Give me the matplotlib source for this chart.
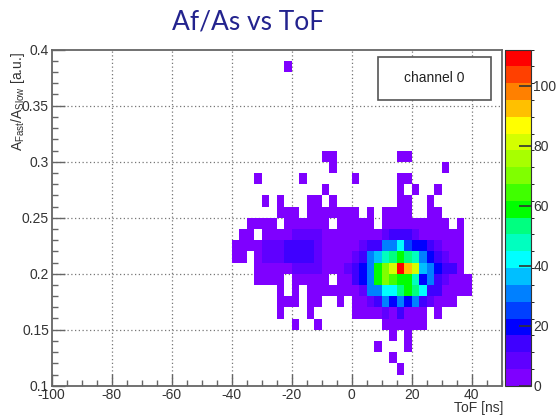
import numpy as np
import matplotlib
matplotlib.use("Agg")
import matplotlib.pyplot as plt
from matplotlib.colors import ListedColormap, BoundaryNorm
from matplotlib.patches import Rectangle
from matplotlib.ticker import MultipleLocator

# Bin edges of the filled part of the 2D histogram
tof_edges = np.arange(-40, 42.6, 2.5)                # ns, 33 bins
ratio_edges = np.round(np.arange(0.11, 0.3901, 0.01), 2)  # 28 bins

# Counts per bin, rows from Af/As = 0.39 (top) down to 0.11, columns from ToF = -40 ns
counts = [
    [0,0,0,0,0,0,0,2,0,0,0,0,0,0,0,0,0,0,0,0,0,0,0,0,0,0,0,0,0,0,0,0,0],
    [0] * 33,
    [0] * 33,
    [0] * 33,
    [0] * 33,
    [0] * 33,
    [0] * 33,
    [0] * 33,
    [0,0,0,0,0,0,0,0,0,0,0,0,2,2,0,0,0,0,0,0,0,0,2,2,0,0,0,0,0,0,0,0,0],
    [0,0,0,0,0,0,0,0,0,0,0,0,0,2,0,0,0,0,0,0,0,0,0,0,0,0,0,0,2,0,0,0,0],
    [0,0,0,2,0,0,0,0,0,2,0,0,0,0,0,0,2,0,0,0,0,0,2,2,0,0,0,0,0,0,0,0,0],
    [0,0,0,0,0,0,0,0,0,0,0,0,2,0,0,0,0,0,0,0,0,0,2,0,2,0,0,2,0,0,0,0,0],
    [0,0,0,0,2,0,2,0,0,0,2,2,0,2,0,0,0,0,0,0,0,0,2,2,0,0,2,0,0,0,0,0,0],
    [0,0,0,0,0,0,2,2,2,0,2,2,2,2,2,2,2,0,2,0,2,2,2,2,0,0,2,2,0,0,0,0,0],
    [0,0,2,2,2,2,0,2,2,2,2,2,2,0,2,2,2,2,2,0,2,2,2,2,2,2,2,2,2,0,2,0,0],
    [0,2,2,0,2,2,2,2,8,8,8,8,2,2,2,2,2,2,2,2,8,14,14,14,8,2,2,2,2,2,2,0,0],
    [2,2,2,2,8,8,8,14,14,14,14,8,2,2,2,2,2,8,14,14,31,31,42,25,19,19,14,8,2,2,2,0,0],
    [2,2,0,2,8,8,8,14,14,14,14,8,2,2,2,2,8,14,31,36,47,53,58,53,47,31,19,14,8,2,2,0,0],
    [0,0,0,2,2,2,2,2,8,8,8,8,2,2,2,8,14,19,31,58,70,81,109,93,81,36,31,19,14,14,2,0,0],
    [0,0,0,2,2,2,2,0,2,2,2,2,2,0,2,2,14,19,31,58,70,64,58,58,47,19,31,14,8,2,2,2,0],
    [0,0,0,0,0,0,2,0,2,0,2,2,2,2,2,2,2,8,31,31,42,42,53,58,53,42,14,14,2,2,2,2,0],
    [0,0,0,0,0,0,2,2,2,0,2,2,0,0,2,0,2,2,8,14,31,19,31,19,31,14,8,2,2,2,0,0,0],
    [0,0,0,0,0,0,2,0,0,0,2,0,0,0,0,0,2,2,2,2,8,2,14,2,2,2,0,2,0,0,0,0,0],
    [0,0,0,0,0,0,0,0,2,0,0,2,0,0,0,0,0,0,0,0,2,2,2,2,2,2,0,0,0,0,0,0,0],
    [0,0,0,0,0,0,0,0,0,0,0,0,0,0,0,0,0,0,0,0,0,2,0,2,0,0,0,0,0,0,0,0,0],
    [0,0,0,0,0,0,0,0,0,0,0,0,0,0,0,0,0,0,0,2,0,0,0,2,0,0,0,0,0,0,0,0,0],
    [0,0,0,0,0,0,0,0,0,0,0,0,0,0,0,0,0,0,0,0,0,2,0,0,0,0,0,0,0,0,0,0,0],
    [0,0,0,0,0,0,0,0,0,0,0,0,0,0,0,0,0,0,0,0,0,0,2,0,0,0,0,0,0,0,0,0,0],
]

# 20-step rainbow palette, violet to red
palette = [
    "#7f00ff", "#5f00ff", "#3f00ff", "#0000ff", "#0040ff",
    "#0080ff", "#00bfff", "#00ffff", "#00ffbf", "#00ff80",
    "#00ff00", "#40ff00", "#80ff00", "#a8ff00", "#d4ff00",
    "#ffff00", "#ffc000", "#ff8000", "#ff4000", "#ff0000",
]
z_max = 112
z_ticks = [0, 20, 40, 60, 80, 100]

plt.rcParams["font.family"] = ["Liberation Sans", "DejaVu Sans"]
plt.rcParams["mathtext.default"] = "regular"

W, H = 556, 415
fig = plt.figure(figsize=(W / 100, H / 100), dpi=100)

def fx(px):
    return px / W

def fy(py):
    return 1 - py / H

ax_l, ax_r, ax_t, ax_b = 51.7, 501.7, 49.7, 385.7
ax = fig.add_axes([fx(ax_l), fy(ax_b), fx(ax_r - ax_l), (ax_b - ax_t) / H])
cax = fig.add_axes([fx(505), fy(ax_b), fx(25.7), (ax_b - ax_t) / H])

cmap = ListedColormap(palette)
norm = BoundaryNorm(np.linspace(0, z_max, len(palette) + 1), cmap.N)
z = np.ma.masked_equal(np.flipud(np.array(counts, dtype=float)), 0)
mesh = ax.pcolormesh(tof_edges, ratio_edges, z, cmap=cmap, norm=norm, zorder=2)

ax.set_xlim(-100, 50)
ax.set_ylim(0.1, 0.4)
ax.xaxis.set_minor_locator(MultipleLocator(5))
ax.yaxis.set_minor_locator(MultipleLocator(0.01))
ax.tick_params(which="both", direction="in", colors="#666666", labelcolor="#333333",
               labelsize=10, top=False, right=False)
ax.tick_params(which="major", length=9, width=1)
ax.tick_params(which="minor", length=4.5, width=1)
ax.tick_params(axis="x", pad=1.5)
ax.tick_params(axis="y", pad=2)
ax.set_xticks(np.arange(-100, 51, 20))
ax.set_xticklabels([str(v) for v in range(-100, 51, 20)])
ax.set_yticks(np.round(np.arange(0.1, 0.401, 0.05), 2))
ax.set_yticklabels(["0.1", "0.15", "0.2", "0.25", "0.3", "0.35", "0.4"])
for sp in ax.spines.values():
    sp.set_color("#666666")
    sp.set_linewidth(1.3)

# dotted grid at the inner major ticks
for xv in range(-80, 50, 20):
    ax.axvline(xv, color="#777777", lw=0.9, ls=(0, (1, 2)), zorder=1)
for yv in [0.15, 0.2, 0.25, 0.3, 0.35]:
    ax.axhline(yv, color="#777777", lw=0.9, ls=(0, (1, 2)), zorder=1)

cb = fig.colorbar(mesh, cax=cax, ticks=z_ticks)
cb.outline.set_linewidth(0.8)
cb.outline.set_edgecolor("#333333")
cax.tick_params(direction="in", length=9, width=1.2, colors="#333333",
                labelcolor="#333333", labelsize=10, pad=2)
cax.set_ylim(0, z_max)

# "channel 0" box
fig.patches.append(Rectangle((fx(378), fy(100)), fx(113), 43 / H, transform=fig.transFigure,
                             facecolor="white", edgecolor="#555555", lw=1.2, zorder=5))
fig.text(fx(434.5), fy(78.5), "channel 0", ha="center", va="center", fontsize=10,
         color="#222222", zorder=6)

fig.text(fx(248), fy(22), "Af/As vs ToF", ha="center", va="center", fontsize=19,
         color="#23238e", family=["Lato", "DejaVu Sans"])
fig.text(fx(18), fy(52), r"A$_{Fast}$/A$_{Slow}$ [a.u.]", rotation=90,
         ha="center", va="top", fontsize=10, color="#333333")
fig.text(fx(503), fy(408), "ToF [ns]", ha="right", va="center", fontsize=10,
         color="#333333")

fig.savefig("out.png", dpi=100)
